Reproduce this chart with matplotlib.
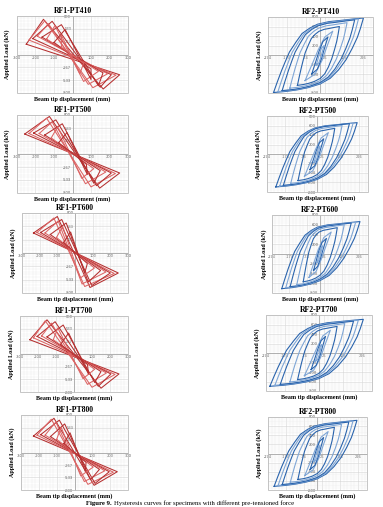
import numpy as np
import matplotlib
matplotlib.use("Agg")
import matplotlib.pyplot as plt
from matplotlib.ticker import AutoMinorLocator, FixedLocator, FuncFormatter
from matplotlib.patches import Rectangle

# ---- data ----
# RF1 cycles: each is [left point, top peak, bottom peak, right point] (mm, kN)
rf1_pt410 = [
    [(-250, 214), (-157, 731), (166, -717), (255, -421)],
    [(-235, 300), (-150, 700), (110, -690), (235, -430)],
    [(-215, 330), (-110, 690), (150, -680), (210, -420)],
    [(-190, 380), (-130, 640), (85, -620), (190, -400)],
    [(-165, 360), (-60, 620), (140, -650), (165, -380)],
    [(-140, 320), (-95, 600), (60, -560), (140, -350)],
    [(-100, 250), (-40, 520), (100, -520), (100, -300)],
    [(-60, 150), (-60, 400), (40, -400), (60, -180)],
]
rf1_pt500 = [
    [(-258, 410), (-125, 770), (147, -700), (255, -390)],
    [(-235, 420), (-140, 735), (100, -675), (232, -400)],
    [(-210, 430), (-90, 700), (130, -650), (210, -390)],
    [(-180, 420), (-110, 660), (70, -610), (180, -370)],
    [(-150, 390), (-55, 620), (115, -600), (150, -340)],
    [(-115, 330), (-80, 560), (50, -500), (115, -300)],
    [(-75, 230), (-30, 440), (80, -420), (75, -210)],
]
rf1_pt600 = [
    [(-235, 400), (-100, 730), (85, -690), (245, -400)],
    [(-215, 410), (-120, 700), (55, -670), (222, -410)],
    [(-195, 410), (-75, 670), (95, -650), (200, -400)],
    [(-170, 400), (-95, 640), (40, -620), (175, -380)],
    [(-140, 370), (-50, 600), (75, -580), (145, -350)],
    [(-105, 310), (-70, 530), (30, -500), (110, -300)],
    [(-65, 210), (-25, 420), (55, -400), (70, -210)],
]
rf1_pt700 = [
    [(-245, 300), (-150, 720), (150, -720), (250, -420)],
    [(-225, 340), (-160, 700), (100, -700), (228, -430)],
    [(-205, 370), (-105, 680), (135, -680), (205, -420)],
    [(-180, 380), (-125, 650), (75, -640), (180, -400)],
    [(-150, 360), (-60, 610), (115, -600), (150, -370)],
    [(-115, 300), (-90, 550), (50, -520), (115, -320)],
    [(-75, 200), (-30, 440), (80, -420), (75, -220)],
]
rf1_pt800 = [
    [(-230, 350), (-115, 730), (110, -700), (240, -410)],
    [(-210, 370), (-130, 710), (75, -680), (218, -420)],
    [(-190, 380), (-85, 690), (115, -660), (195, -410)],
    [(-165, 370), (-105, 650), (55, -620), (170, -390)],
    [(-135, 340), (-55, 610), (90, -580), (140, -360)],
    [(-100, 280), (-75, 540), (35, -500), (105, -310)],
    [(-60, 190), (-25, 420), (60, -400), (65, -210)],
]

# RF2 cycles: (positive peak disp, positive peak load, negative peak disp, negative peak load)
rf2_pt410 = [(226, 780, 245, 790), (200, 760, 222, 770), (180, 740, 200, 750),
             (140, 680, 160, 700), (100, 600, 120, 640), (65, 500, 80, 540),
             (40, 380, 45, 400), (20, 200, 22, 220)]
rf2_pt500 = [(217, 660, 226, 694), (195, 650, 205, 675), (175, 640, 185, 660),
             (135, 600, 145, 620), (95, 540, 105, 560), (60, 450, 70, 470),
             (35, 320, 40, 330), (15, 170, 18, 180)]
rf2_pt600 = [(230, 665, 218, 711), (205, 650, 195, 690), (180, 635, 170, 670),
             (140, 600, 132, 630), (100, 540, 95, 570), (65, 450, 62, 480),
             (38, 320, 36, 340), (16, 170, 16, 180)]
rf2_pt700 = [(231, 709, 254, 701), (205, 690, 228, 680), (180, 670, 200, 660),
             (135, 620, 150, 610), (95, 560, 110, 560), (60, 480, 75, 480),
             (35, 350, 40, 350), (15, 180, 18, 180)]
rf2_pt800 = [(220, 727, 240, 720), (198, 710, 218, 700), (175, 690, 195, 680),
             (135, 640, 150, 630), (95, 575, 108, 570), (60, 480, 70, 485),
             (35, 350, 40, 350), (15, 180, 18, 180)]

# normalised outer loop of RF2 (read from RF2-PT700)
loop_u = [-1.0, -0.92, -0.83, -0.74, -0.66, -0.52, -0.39, -0.22, -0.06, 0.2, 0.45, 0.75, 1.0,
          0.93, 0.86, 0.74, 0.6, 0.42, 0.23, 0.0, -0.26, -0.5, -0.73, -1.0]
loop_v = [-1.0, -0.72, -0.42, -0.15, 0.08, 0.35, 0.58, 0.73, 0.83, 0.9, 0.93, 0.97, 1.0,
          0.72, 0.48, 0.18, -0.12, -0.4, -0.62, -0.77, -0.87, -0.93, -0.97, -1.0]
# normalised small (nearly elastic) loop
thin_u = [-1.0, -0.6, -0.15, 0.35, 1.0, 0.6, 0.15, -0.35, -1.0]
thin_v = [-1.0, -0.45, 0.2, 0.75, 1.0, 0.45, -0.2, -0.75, -1.0]
n_fat = 5  # the first cycles of each RF2 panel are wide loops

rf1_panels = [("RF1-PT410", rf1_pt410), ("RF1-PT500", rf1_pt500), ("RF1-PT600", rf1_pt600),
              ("RF1-PT700", rf1_pt700), ("RF1-PT800", rf1_pt800)]
rf2_panels = [("RF2-PT410", rf2_pt410), ("RF2-PT500", rf2_pt500), ("RF2-PT600", rf2_pt600),
              ("RF2-PT700", rf2_pt700), ("RF2-PT800", rf2_pt800)]

rf1_xticks = [-300, -200, -100, 0, 100, 200, 300]
rf1_yticks = [-800, -533, -267, 0, 267, 533, 800]
rf2_xticks = [-274, -174, -74, 26, 126, 226]
rf2_yticks = [-800, -600, -400, -200, 0, 200, 400, 600, 800]

# frame boxes in pixels (left, top, right, bottom)
rf1_boxes = [(17, 16, 128, 93), (17, 115, 128, 193), (22, 213, 128, 293),
             (20, 316, 128, 392), (21, 415, 128, 490)]
rf2_boxes = [(268, 17, 373, 93), (267, 116, 368, 192), (272, 215, 368, 293),
             (266, 315, 372, 391), (268, 417, 367, 490)]

W, H = 383, 507
SERIF = "Liberation Serif"
RED = ["#b52f2f", "#dc6464"]
BLUE = ["#2a64ad", "#7fa6d6"]

fig = plt.figure(figsize=(W / 100, H / 100), dpi=100)


def make_axes(box):
    l, t, r, b = box
    return fig.add_axes([l / W, 1 - b / H, (r - l) / W, (b - t) / H])


def style(ax, xticks, yticks, xlim, ylim, title):
    ax.set_xlim(xlim)
    ax.set_ylim(ylim)
    ax.xaxis.set_major_locator(FixedLocator(xticks))
    ax.yaxis.set_major_locator(FixedLocator(yticks))
    ax.xaxis.set_minor_locator(AutoMinorLocator(5))
    ax.yaxis.set_minor_locator(AutoMinorLocator(5))
    fmt = FuncFormatter(lambda v, p: "" if abs(v) < 1e-9 else f"{v:.0f}")
    ax.xaxis.set_major_formatter(fmt)
    ax.yaxis.set_major_formatter(fmt)
    ax.grid(which="major", color="#d4d4d4", lw=0.4)
    ax.grid(which="minor", color="#ececec", lw=0.3)
    ax.set_axisbelow(True)
    for s in ("top", "right"):
        ax.spines[s].set_visible(False)
    ax.spines["left"].set_position(("data", 0))
    ax.spines["bottom"].set_position(("data", 0))
    for s in ("left", "bottom"):
        ax.spines[s].set_color("#9a9a9a")
        ax.spines[s].set_linewidth(0.5)
    ax.tick_params(which="both", length=0, labelsize=2.6, colors="#555555", pad=1)
    ax.add_patch(Rectangle((0, 0), 1, 1, transform=ax.transAxes, fill=False,
                           ec="#bdbdbd", lw=0.6, clip_on=False, zorder=4))
    ax.set_title(title, family=SERIF, fontweight="bold", fontsize=5.6, pad=2)
    ax.text(0.5, -0.045, "Beam tip displacement (mm)", transform=ax.transAxes,
            ha="center", va="top", family=SERIF, fontweight="bold", fontsize=4.4)
    ax.text(-0.085, 0.5, "Applied Load (kN)", transform=ax.transAxes, rotation=90,
            ha="center", va="center", family=SERIF, fontweight="bold", fontsize=4.4)


for (title, cycles), box in zip(rf1_panels, rf1_boxes):
    ax = make_axes(box)
    style(ax, rf1_xticks, rf1_yticks, (-300, 300), (-800, 800), title)
    for i, cyc in enumerate(cycles):
        pts = cyc + [cyc[0]]
        xs = [p[0] for p in pts]
        ys = [p[1] for p in pts]
        ax.plot(xs, ys, color=RED[i % 2], lw=0.75, zorder=3)

for (title, cycles), box in zip(rf2_panels, rf2_boxes):
    ax = make_axes(box)
    style(ax, rf2_xticks, rf2_yticks, (-274, 276), (-800, 800), title)
    for i, (dp, pp, dn, pn) in enumerate(cycles):
        u = np.array(loop_u if i < n_fat else thin_u)
        v = np.array(loop_v if i < n_fat else thin_v)
        xs = np.where(u > 0, u * dp, u * dn)
        ys = np.where(v > 0, v * pp, v * pn)
        ax.plot(xs, ys, color=BLUE[i % 2], lw=0.8, zorder=3)

# caption
t1 = fig.text(86 / W, 1 - 503 / H, "Figure 9.", family=SERIF, fontweight="bold",
              fontsize=4.9, ha="left", va="center")
fig.canvas.draw()
bb = t1.get_window_extent()
fig.text((bb.x1 + 2) / W, 1 - 503 / H,
         "Hysteresis curves for specimens with different pre-tensioned force",
         family=SERIF, fontsize=4.9, ha="left", va="center")

fig.savefig("out.png", dpi=100)
